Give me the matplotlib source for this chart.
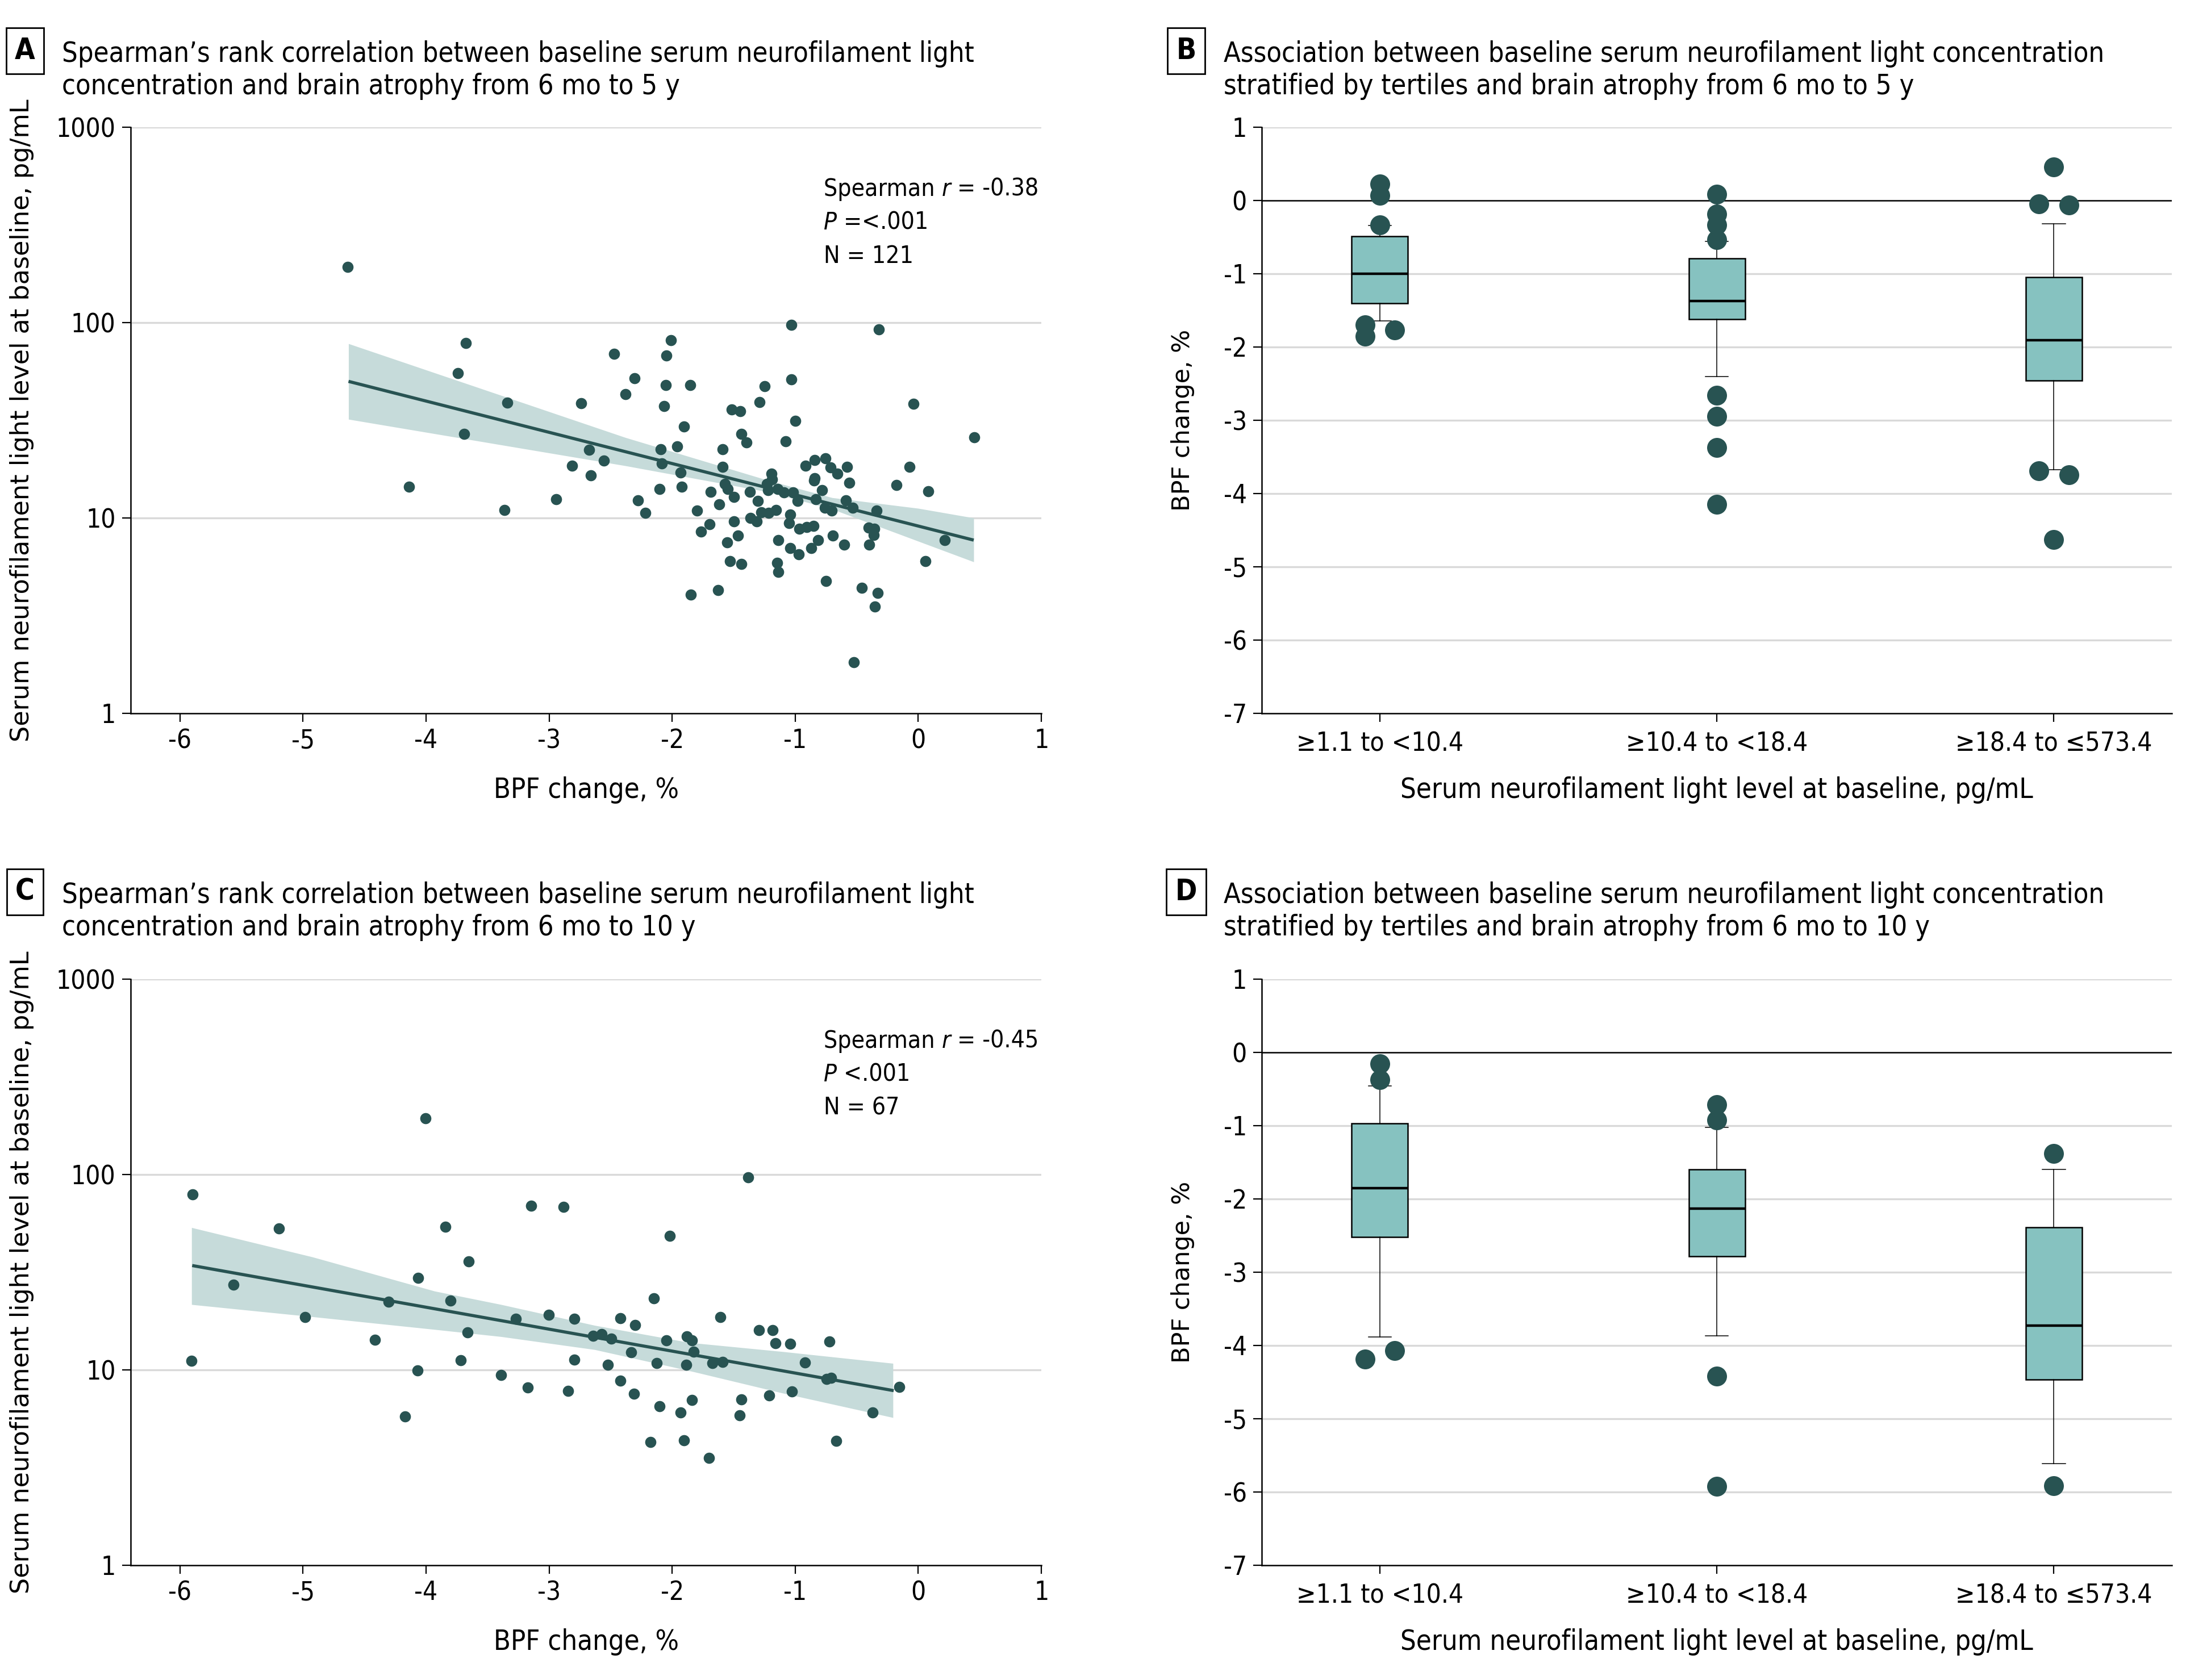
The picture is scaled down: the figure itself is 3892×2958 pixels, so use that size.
import numpy as np
import matplotlib
matplotlib.use("Agg")
import matplotlib.pyplot as plt
from matplotlib import font_manager as fm

# pick a narrow face for the condensed journal look
_avail = [(f.name, str(f.stretch)) for f in fm.fontManager.ttflist]
if any(n == 'Liberation Sans Narrow' for n, s in _avail):
    NARROW, STRETCH = 'Liberation Sans Narrow', 'normal'
elif any(n == 'DejaVu Sans' and 'condensed' in s for n, s in _avail):
    NARROW, STRETCH = 'DejaVu Sans', 'condensed'
else:
    NARROW, STRETCH = 'Liberation Sans', 'normal'
plt.rcParams['font.family'] = [NARROW, 'DejaVu Sans']
plt.rcParams['font.stretch'] = STRETCH

# ---- panel A: 6 mo to 5 y (BPF change %, sNfL pg/mL) ----
a_bpf = [-4.636, -3.675, -3.742, -3.339, -3.692, -4.139, -3.362, -2.942, -2.473, -2.305,
         -2.378, -2.741, -2.814, -2.674, -2.663, -2.557, -2.009, -2.048, -2.054, -1.852,
         -1.847, -1.629, -1.249, -1.137, -1.031, -1.031, -0.751, -0.522, -0.461, -0.332,
         -0.354, -0.321,
         -2.066, -1.517, -1.447, -1.290, -0.038, -1.903, -0.999, -1.439, -1.395, -1.080,
         0.453, -2.092, -1.958, -1.589, -2.082, -1.934, -2.103, -1.923, -2.280, -2.220,
         -1.591, -1.573, -1.548, -1.500, -1.686, -1.616, -1.800, -1.698, -1.766, -1.498,
         -1.465, -1.552, -1.531, -1.439, -1.369, -1.303, -1.362, -1.311, -1.276, -1.218,
         -1.154, -1.191, -1.189, -1.232, -1.220, -1.142, -1.092, -1.018, -0.981, -1.043,
         -1.049, -0.966, -0.909, -0.853, -1.137, -1.043, -0.973, -1.148, -0.869, -0.816,
         -0.917, -0.841, -0.756, -0.713, -0.657, -0.581, -0.562, -0.841, -0.849, -0.781,
         -0.832, -0.758, -0.706, -0.587, -0.535, -0.694, -0.601, -0.339, -0.403, -0.360,
         -0.362, -0.401, -0.177, -0.071, 0.083, 0.213, 0.059]
a_nfl = [193, 78.5, 55, 39, 27, 14.4, 11.0, 12.5, 69, 52,
         43, 38.6, 18.5, 22.3, 16.5, 19.6, 81, 68, 48, 47.9,
         4.06, 4.28, 47.3, 5.3, 97, 51.3, 4.75, 1.82, 4.38, 4.13,
         3.53, 92,
         37.4, 35.8, 35.2, 39.1, 38.5, 29.4, 31.3, 27.0, 24.3, 24.7,
         25.8, 22.4, 23.2, 22.4, 19.0, 17.1, 14.1, 14.4, 12.3, 10.6,
         18.2, 14.9, 14.1, 12.8, 13.6, 11.7, 10.9, 9.3, 8.5, 9.6,
         8.1, 7.5, 6.0, 5.8, 13.6, 12.2, 10.0, 9.6, 10.7, 10.6,
         11.0, 16.9, 15.8, 14.9, 13.9, 14.1, 13.5, 13.5, 12.2, 10.4,
         9.4, 8.8, 9.0, 9.1, 7.7, 7.0, 6.5, 5.9, 7.0, 7.7,
         18.5, 19.8, 20.2, 18.1, 16.8, 18.2, 15.1, 16.0, 15.5, 13.9,
         12.5, 11.3, 10.9, 12.3, 11.3, 8.1, 7.3, 10.9, 8.9, 8.8,
         8.2, 7.3, 14.7, 18.3, 13.7, 7.7, 6.0]
a_fit_x = [-4.63, 0.45]
a_fit_y = [50, 7.7]
a_band_x = [-4.63, -2.38, -1.21, -0.70, 0.0, 0.45]
a_band_lo = [32, 18.5, 13.55, 11.1, 7.6, 5.96]
a_band_hi = [78, 25.8, 15.5, 12.7, 11.2, 10.0]
a_r, a_p, a_n = "-0.38", "=<.001", "121"

# ---- panel C: 6 mo to 10 y ----
c_bpf = [-5.899, -5.905, -5.564, -5.195, -4.983, -4.413, -4.306, -4.172, -4.071, -4.065,
         -4.004, -3.842, -3.802, -3.652, -3.663, -3.719, -3.390, -3.272, -3.172, -3.144,
         -3.004, -2.881, -2.847, -2.797, -2.797, -2.641, -2.574, -2.523, -2.496, -2.423,
         -2.423, -2.334, -2.311, -2.300, -2.177, -2.149, -2.127, -2.104, -2.048, -2.020,
         -1.931, -1.903, -1.886, -1.880, -1.841, -1.824, -1.841, -1.702, -1.674, -1.607,
         -1.590, -1.450, -1.439, -1.383, -1.294, -1.210, -1.182, -1.160, -1.042, -1.025,
         -0.919, -0.746, -0.724, -0.707, -0.668, -0.371, -0.153]
c_nfl = [78.9, 11.1, 27.2, 53, 18.6, 14.3, 22.3, 5.78, 9.9, 29.5,
         194, 54, 22.6, 35.8, 15.6, 11.2, 9.4, 18.3, 8.15, 69,
         19.1, 68.4, 7.8, 18.3, 11.3, 14.9, 15.2, 10.6, 14.4, 18.4,
         8.8, 12.3, 7.55, 17, 4.26, 23.2, 10.8, 6.5, 14.2, 48.5,
         6.04, 4.37, 10.6, 14.8, 14.2, 12.4, 7.0, 3.54, 10.8, 18.6,
         11, 5.86, 7.06, 96.9, 16, 7.4, 16, 13.7, 13.6, 7.74,
         10.9, 9.0, 14, 9.1, 4.32, 6.04, 8.2]
c_fit_x = [-5.9, -0.2]
c_fit_y = [34.2, 7.83]
c_band_x = [-5.905, -4.92, -3.93, -3.39, -2.63, -1.86, -1.10, -0.206]
c_band_lo = [21.6, 18.7, 16.1, 14.8, 12.7, 9.9, 7.6, 5.7]
c_band_hi = [53.5, 37.8, 25.3, 21.6, 16.9, 13.8, 12.4, 10.8]
c_r, c_p, c_n = "-0.45", "<.001", "67"

# ---- tertile box plots ----
tertiles = ["\u22651.1 to <10.4", "\u226510.4 to <18.4", "\u226518.4 to \u2264573.4"]

b_whislo = [-1.645, -2.40, -3.674]
b_q1 = [-1.40, -1.62, -2.455]
b_med = [-1.00, -1.37, -1.91]
b_q3 = [-0.49, -0.79, -1.05]
b_whishi = [-0.34, -0.556, -0.319]
b_fliers = [[0.226, 0.068, -0.333, -1.695, -1.853, -1.767],
            [0.082, -0.19, -0.333, -0.534, -2.663, -2.943, -3.373, -4.147],
            [0.455, -0.047, -0.061, -3.688, -3.746, -4.627]]

d_whislo = [-3.881, -3.866, -5.616]
d_q1 = [-2.517, -2.784, -4.463]
d_med = [-1.854, -2.135, -3.728]
d_q3 = [-0.968, -1.594, -2.387]
d_whishi = [-0.456, -1.025, -1.594]
d_fliers = [[-0.153, -0.369, -4.189, -4.074],
            [-0.715, -0.924, -4.42, -5.92],
            [-1.379, -5.913]]

# sideways dodge of overlapping outliers (layout only)
b_dodge = [[0, 0, 0, -1, -1, 1], [0] * 8, [0, -1, 1, -1, 1, 0]]
d_dodge = [[0, 0, -1, 1], [0] * 4, [0, 0]]

DOT = '#285352'
BOX = '#86c2c0'
BAND = '#c6dbda'
GRID = '#d9d9d9'
FS_TICK = 16.5
FS_STAT = 15.3
FS_TITLE = 18.5
TITLE_W = 1604  # px width of the first title line in the reference

fig = plt.figure(figsize=(19.46, 14.79), dpi=200)
titles = []


def panel_title(letter, y0, x_box, x_txt, lines):
    fig.text(x_box, y0 + 0.0065, letter, fontsize=FS_TITLE, fontweight='bold', ha='center', va='center',
             bbox=dict(boxstyle='square,pad=0.3', fc='white', ec='black', lw=1.0))
    t1 = fig.text(x_txt, y0, lines[0], fontsize=FS_TITLE, va='baseline')
    t2 = fig.text(x_txt, y0 - 0.0193, lines[1], fontsize=FS_TITLE, va='baseline')
    titles.append((t1, t2))


def style_axes(ax):
    for s in ['top', 'right']:
        ax.spines[s].set_visible(False)
    for s in ['left', 'bottom']:
        ax.spines[s].set_linewidth(0.9)
    ax.tick_params(labelsize=FS_TICK, length=5.5, width=0.8, pad=4)


def stat_line(ax, y, pieces):
    # pieces: list of (text, italic) drawn one after another
    prev = None
    for txt, it in pieces:
        st = 'italic' if it else 'normal'
        if prev is None:
            prev = ax.text(0.761, y, txt, transform=ax.transAxes, fontsize=FS_STAT,
                           va='bottom', style=st)
        else:
            prev = ax.annotate(txt, xy=(1, 0), xycoords=prev, fontsize=FS_STAT,
                               va='bottom', ha='left', style=st)


def scatter_panel(ax, bpf, nfl, fx, fy, bx, blo, bhi, r, p, n):
    ax.set_yscale('log')
    ax.set_ylim(1, 1000)
    ax.set_xlim(-6.4, 1)
    ax.set_xticks(range(-6, 2))
    ax.set_xticklabels([str(t) for t in range(-6, 2)])
    ax.set_yticks([1, 10, 100, 1000])
    ax.set_yticklabels(['1', '10', '100', '1000'])
    ax.yaxis.set_minor_locator(matplotlib.ticker.NullLocator())
    for g in [10, 100, 1000]:
        ax.axhline(g, color=GRID, lw=1.2, zorder=0)
    ax.fill_between(bx, blo, bhi, color=BAND, lw=0, zorder=1)
    ax.plot(fx, fy, color=DOT, lw=2.0, zorder=3, solid_capstyle='butt')
    ax.scatter(bpf, nfl, s=50, color=DOT, lw=0, zorder=4)
    style_axes(ax)
    ax.set_xlabel('BPF change, %', fontsize=FS_TICK + 1)
    ax.xaxis.set_label_coords(0.5, -0.108)
    ax.set_ylabel('Serum neurofilament light level at baseline, pg/mL', fontsize=16,
                  family='DejaVu Sans', stretch='normal')
    ax.yaxis.set_label_coords(-0.106, 0.5)
    stat_line(ax, 0.874, [("Spearman ", False), ("r", True), (" = " + r, False)])
    stat_line(ax, 0.817, [("P", True), (" " + p, False)])
    stat_line(ax, 0.760, [("N = " + n, False)])


def box_panel(ax, whislo, q1, med, q3, whishi, fliers, dodge):
    stats = []
    for i in range(3):
        stats.append(dict(whislo=whislo[i], q1=q1[i], med=med[i], q3=q3[i], whishi=whishi[i],
                          fliers=[]))
    ax.set_xlim(-0.35, 2.35)
    ax.set_ylim(-7, 1)
    for g in [1, -1, -2, -3, -4, -5, -6]:
        ax.axhline(g, color=GRID, lw=1.2, zorder=0)
    ax.axhline(0, color='black', lw=0.9, zorder=1)
    ax.bxp(stats, positions=[0, 1, 2], widths=0.167, capwidths=0.068, patch_artist=True,
           showfliers=False,
           boxprops=dict(facecolor=BOX, edgecolor='black', lw=0.9),
           medianprops=dict(color='black', lw=1.6),
           whiskerprops=dict(color='black', lw=0.55),
           capprops=dict(color='black', lw=0.55), zorder=2)
    for i in range(3):
        xs = [i + 0.044 * d for d in dodge[i]]
        ax.plot(xs, fliers[i], 'o', ms=12.6, color=DOT, mec='none', zorder=4)
    ax.set_xticks([0, 1, 2])
    ax.set_xticklabels(tertiles)
    ax.set_yticks(range(-7, 2))
    ax.set_yticklabels([str(t) for t in range(-7, 2)])
    style_axes(ax)
    ax.tick_params(axis='x', pad=6)
    ax.set_xlabel('Serum neurofilament light level at baseline, pg/mL', fontsize=FS_TICK + 1)
    ax.xaxis.set_label_coords(0.5, -0.108)
    ax.set_ylabel('BPF change, %', fontsize=15.5, family='DejaVu Sans', stretch='normal')
    ax.yaxis.set_label_coords(-0.074, 0.5)


axA = fig.add_axes([0.0591, 0.5754, 0.4119, 0.3489])
axB = fig.add_axes([0.5707, 0.5754, 0.4116, 0.3489])
axC = fig.add_axes([0.0591, 0.0683, 0.4119, 0.3489])
axD = fig.add_axes([0.5707, 0.0683, 0.4116, 0.3489])

scatter_panel(axA, a_bpf, a_nfl, a_fit_x, a_fit_y, a_band_x, a_band_lo, a_band_hi, a_r, a_p, a_n)
scatter_panel(axC, c_bpf, c_nfl, c_fit_x, c_fit_y, c_band_x, c_band_lo, c_band_hi, c_r, c_p, c_n)
box_panel(axB, b_whislo, b_q1, b_med, b_q3, b_whishi, b_fliers, b_dodge)
box_panel(axD, d_whislo, d_q1, d_med, d_q3, d_whishi, d_fliers, d_dodge)

panel_title('A', 0.9632, 0.0113, 0.028,
            ["Spearman\u2019s rank correlation between baseline serum neurofilament light",
             "concentration and brain atrophy from 6 mo to 5 y"])
panel_title('B', 0.9632, 0.5365, 0.5535,
            ["Association between baseline serum neurofilament light concentration",
             "stratified by tertiles and brain atrophy from 6 mo to 5 y"])
panel_title('C', 0.4625, 0.0113, 0.028,
            ["Spearman\u2019s rank correlation between baseline serum neurofilament light",
             "concentration and brain atrophy from 6 mo to 10 y"])
panel_title('D', 0.4625, 0.5365, 0.5535,
            ["Association between baseline serum neurofilament light concentration",
             "stratified by tertiles and brain atrophy from 6 mo to 10 y"])

# fit the title size to the reference line width, whatever narrow face was found
fig.canvas.draw()
w = titles[0][0].get_window_extent().width
fs = min(FS_TITLE, FS_TITLE * TITLE_W / w)
for t1, t2 in titles:
    t1.set_fontsize(fs)
    t2.set_fontsize(fs)

fig.savefig('out.png', dpi=200, facecolor='white')
